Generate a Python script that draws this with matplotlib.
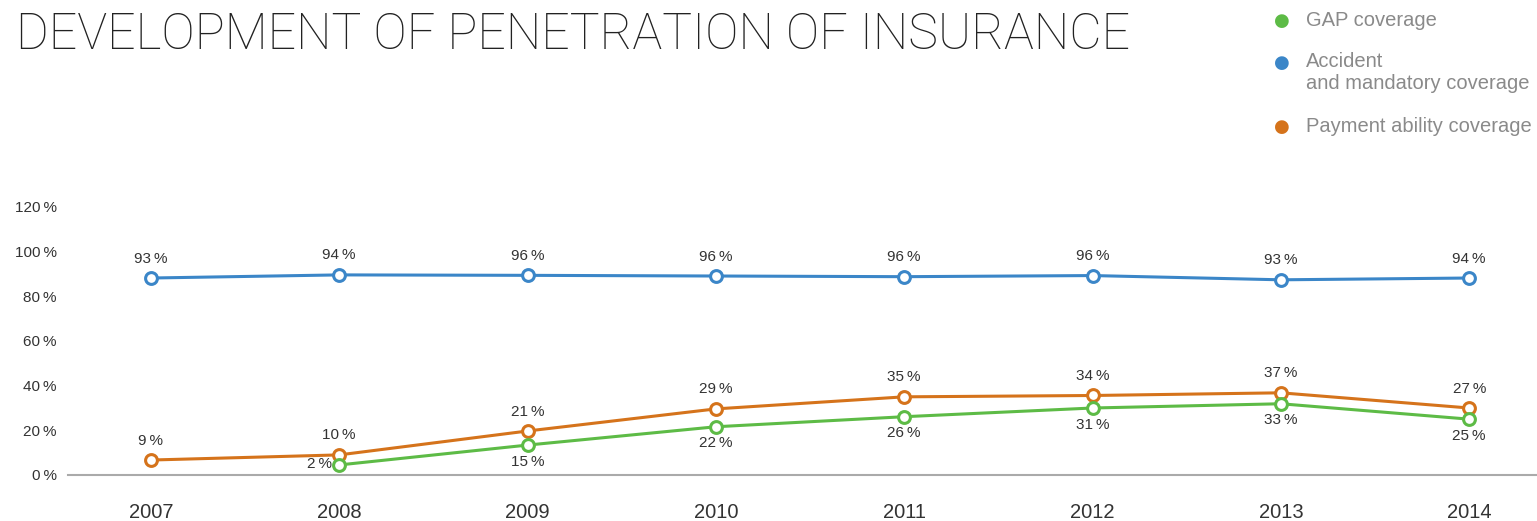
import matplotlib.pyplot as plt

plt.rcParams['font.family'] = ['Liberation Sans', 'DejaVu Sans']

years = ['2007', '2008', '2009', '2010', '2011', '2012', '2013', '2014']

# positions of the markers as drawn on the chart's scale (%)
accident = [88.2, 89.6, 89.4, 89.1, 88.8, 89.3, 87.4, 88.2]
payment = [6.7, 9.0, 19.7, 29.6, 35.0, 35.6, 36.8, 30.0]
gap = [None, 4.5, 13.4, 21.6, 26.1, 30.0, 31.9, 25.0]

# the labels printed next to the markers
accident_lbl = [93, 94, 96, 96, 96, 96, 93, 94]
payment_lbl = [9, 10, 21, 29, 35, 34, 37, 27]
gap_lbl = [None, 2, 15, 22, 26, 31, 33, 25]

green = '#5dbb46'
blue = '#3b86c8'
orange = '#d5731b'
txt = '#333333'

fig = plt.figure(figsize=(15.37, 5.21), dpi=100)
ax = fig.add_axes([68 / 1537, 46 / 521, 1 - 68 / 1537, (475 - 207) / 521])

x = list(range(len(years)))


def draw(vals, lbls, color, where):
    xs = [i for i, v in zip(x, vals) if v is not None]
    ys = [v for v in vals if v is not None]
    ax.plot(xs, ys, color=color, lw=2.2, marker='o', ms=8.5, mfc='white',
            mec=color, mew=2.2, clip_on=False, zorder=3)
    for i, v, l in zip(x, vals, lbls):
        if v is None:
            continue
        if where == 'below' and i == 1:
            off = (-14, 1)
        elif where == 'below':
            off = (0, -12)
        else:
            off = (0, 14)
        ax.annotate(f'{l}\u2009%', (i, v), xytext=off, textcoords='offset points',
                    ha='center', va='center', fontsize=11, color=txt)


draw(accident, accident_lbl, blue, 'above')
draw(payment, payment_lbl, orange, 'above')
draw(gap, gap_lbl, green, 'below')

ax.set_xlim(-0.44, 7.36)
ax.set_ylim(0, 120)
ax.set_yticks(range(0, 121, 20))
ax.set_yticklabels([f'{v}\u2009%' for v in range(0, 121, 20)], fontsize=11, color=txt)
ax.set_xticks(x)
ax.set_xticklabels(years, fontsize=14.5, color=txt)
ax.tick_params(axis='y', length=0, pad=8)
ax.tick_params(axis='x', length=0, pad=20)
for s in ['top', 'right', 'left']:
    ax.spines[s].set_visible(False)
ax.spines['bottom'].set_color('#aaaaaa')
ax.spines['bottom'].set_linewidth(1.5)

fig.text(16 / 1537, 1 - 35 / 521, 'DEVELOPMENT OF PENETRATION OF INSURANCE',
         fontsize=36, fontfamily='Roboto', fontweight=100, color='#222222', va='center')

legend = [('GAP coverage', green, 21),
          ('Accident\nand mandatory coverage', blue, 63),
          ('Payment ability coverage', orange, 127)]
for name, col, py in legend:
    fig.text(1282 / 1537, 1 - py / 521, '\u25cf', color=col, fontsize=13,
             ha='center', va='center', fontfamily='DejaVu Sans')
    if '\n' in name:
        fig.text(1306 / 1537, 1 - (py - 11) / 521, name, color='#8a8a8a', fontsize=14.5,
                 ha='left', va='top', linespacing=1.2)
    else:
        fig.text(1306 / 1537, 1 - py / 521, name, color='#8a8a8a', fontsize=14.5,
                 ha='left', va='center')

fig.savefig('out.png', dpi=100)
